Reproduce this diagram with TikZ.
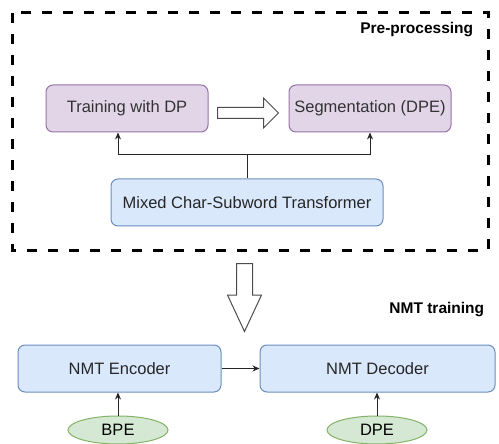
\documentclass[tikz,border=0pt]{standalone}
\usepackage{fontspec}
\setmainfont{Liberation Sans}
\usepackage{tikz}
\usetikzlibrary{positioning,shapes.geometric,shapes.arrows,arrows.meta}
\definecolor{dpfill}{HTML}{E1D5E7}
\definecolor{dpdraw}{HTML}{9673A6}
\definecolor{nmtfill}{HTML}{DAE8FC}
\definecolor{nmtdraw}{HTML}{6C8EBF}
\definecolor{bpefill}{HTML}{D5E8D4}
\definecolor{bpedraw}{HTML}{82B366}
\tikzset{dpbox/.style={draw=dpdraw, fill=dpfill, rounded corners=7pt, minimum height=47pt, text=black!80}}
\tikzset{nmtbox/.style={draw=nmtdraw, fill=nmtfill, rounded corners=7pt, minimum height=47pt, text=black!85}}
\tikzset{segoval/.style={ellipse, draw=bpedraw, fill=bpefill, minimum width=100pt, minimum height=28pt, inner sep=0pt}}
\tikzset{hollow/.style={single arrow, draw=black!70, fill=white, single arrow head indent=0pt, anchor=tail}}
\tikzset{stagelabel/.style={font=\fontsize{15.5}{18}\selectfont\bfseries, anchor=base east}}

\begin{document}
\begin{tikzpicture}[x=1pt,y=-1pt,line width=1pt,>={Stealth[length=7pt,width=6pt]},
    font=\fontsize{16.5}{20}\selectfont]
  \useasboundingbox (0,0) rectangle (499,444);
  \clip (0,0) rectangle (499,444);
  % Pre-processing stage, inside the dashed frame
  \draw[line width=3pt, dash pattern=on 10pt off 11pt] (12,13) rectangle (488,250);
  \node[stagelabel] (prelabel) at (477,34) {Pre-processing};

  \node[dpbox, minimum width=162pt] (train) at (127,108.5) {Training with DP};
  \node[dpbox, minimum width=162pt] (seg) [right = 80pt of train] {Segmentation (DPE)};
  \node[nmtbox, minimum width=272pt] (mixed) at (247,202.5) {Mixed Char-Subword Transformer};

  % the transformer feeds both boxes
  \draw[black!85] (mixed.north) -- ++(0,-24) coordinate (split);
  \draw[black!85,->] (split) -| ([xshift=-9pt]train.south);
  \draw[black!85,->] (split) -| (seg.south);
  \node[hollow, minimum height=61pt, inner xsep=0pt, inner ysep=5pt, single arrow head extend=9.5pt]
    (dparrow) at (217,113) {};

  % output of pre-processing goes to NMT training
  \node[hollow, shape border rotate=270, minimum height=68pt, inner xsep=7.5pt, inner ysep=0pt,
    single arrow head extend=9pt, single arrow tip angle=50] (down) at (244.5,263) {};
  \node[stagelabel] (nmtlabel) at (488,313) {NMT training};

  \node[nmtbox, minimum width=203pt] (enc) at (119.5,368.5) {NMT Encoder};
  \node[nmtbox, minimum width=235pt] (dec) [right = 38pt of enc] {NMT Decoder};
  \draw[black!85,->] (enc) -- (dec);

  \node[segoval] (bpe) at (118,430) {BPE};
  \node[segoval] (dpe) at (377,430) {DPE};
  \draw[black!85,->] (bpe) -- (bpe |- enc.south);
  \draw[black!85,->] (dpe) -- (dpe |- dec.south);
\end{tikzpicture}
\end{document}
